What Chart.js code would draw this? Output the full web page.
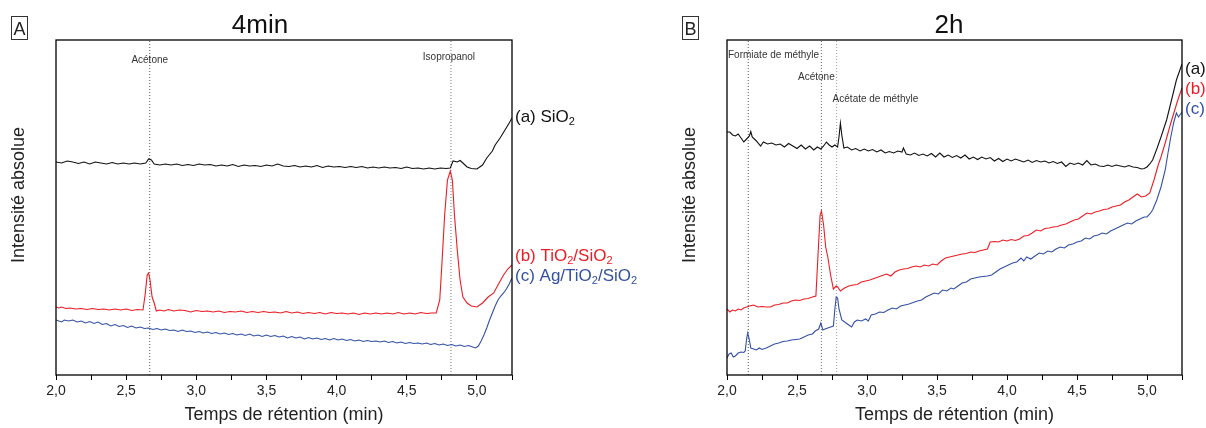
<!DOCTYPE html>
<html><head><meta charset="utf-8">
<script src="https://cdn.jsdelivr.net/npm/chart.js@4.4.1/dist/chart.umd.min.js"></script>
<style>
html,body{margin:0;padding:0;background:#fff;overflow:hidden}
#wrap{position:relative;width:1206px;height:428px}
canvas{position:absolute;top:0}
</style></head>
<body><div id="wrap"><canvas id="cA" width="680" height="428" style="left:0"></canvas><canvas id="cB" width="603" height="428" style="left:603px"></canvas></div>
<script>
// ---------- DATA ----------
const xTickValues = [2.0, 2.5, 3.0, 3.5, 4.0, 4.5, 5.0];
const peakLinesA = [2.668, 4.815];
const peakLinesB = [2.152, 2.674, 2.783];

// Panel A (4 min) : [retention time (min), intensity (a.u.)]
const sio2_4min = [[2.00,213],[2.04,212],[2.08,214],[2.12,213],[2.16,211.5],[2.20,213],[2.24,211],[2.28,213],[2.32,212],[2.36,211],[2.40,212.5],[2.44,211],[2.48,212],[2.52,211],[2.56,212],[2.60,211],[2.64,212],[2.66,216],[2.68,215],[2.70,211],[2.74,210],[2.78,211],[2.82,210],[2.86,211],[2.90,209.5],[2.94,210.5],[2.98,209.5],[3.02,211],[3.06,210],[3.10,210.5],[3.14,209],[3.18,210],[3.22,209],[3.26,210.5],[3.30,208.5],[3.34,210],[3.38,209],[3.42,209.5],[3.46,208.5],[3.50,210],[3.54,209],[3.58,211],[3.62,209],[3.66,208.5],[3.70,209.5],[3.74,208],[3.78,209],[3.82,208],[3.86,209.5],[3.90,207.5],[3.94,209],[3.98,208],[4.02,208.5],[4.06,207.5],[4.10,208.5],[4.14,207.5],[4.18,208.5],[4.22,207],[4.26,208],[4.30,207],[4.34,208],[4.38,207],[4.42,207.5],[4.46,206.5],[4.50,208],[4.54,206.5],[4.58,207],[4.62,206],[4.66,207],[4.70,206],[4.74,207],[4.78,206.5],[4.81,207],[4.83,214],[4.86,213],[4.88,214.5],[4.90,212],[4.93,208],[4.96,206.5],[5.00,206],[5.04,210],[5.07,217],[5.11,224],[5.13,230],[5.165,237],[5.20,245],[5.23,252],[5.25,257]];
const tio2_4min = [[2.00,68],[2.02,67],[2.04,68],[2.07,66.5],[2.10,67],[2.14,66],[2.18,66.5],[2.22,65.5],[2.26,66.5],[2.30,65.5],[2.34,66],[2.38,65],[2.42,66],[2.46,65],[2.50,66],[2.54,64.5],[2.58,65.5],[2.62,65],[2.635,80],[2.65,100],[2.66,102],[2.67,95],[2.685,78],[2.70,72],[2.715,64],[2.74,65],[2.77,64],[2.80,65.5],[2.84,64],[2.88,65],[2.92,64.5],[2.96,63],[3.00,64.5],[3.04,63.5],[3.08,64],[3.12,63],[3.16,64],[3.20,62.5],[3.24,63.5],[3.28,63],[3.32,64],[3.36,62.5],[3.40,63.5],[3.44,62.5],[3.48,63.5],[3.52,62.5],[3.56,63],[3.60,62],[3.64,63.5],[3.68,62],[3.72,63],[3.76,61.5],[3.80,62.5],[3.84,61.5],[3.88,62.5],[3.92,61],[3.96,62.5],[4.00,61.5],[4.04,62],[4.08,61],[4.12,62],[4.16,60.5],[4.20,62],[4.24,61],[4.28,62],[4.32,61],[4.36,62],[4.40,61],[4.44,62.5],[4.48,61],[4.52,62],[4.56,61],[4.60,62.5],[4.64,61.5],[4.68,62],[4.71,62],[4.735,75],[4.75,110],[4.77,160],[4.79,195],[4.81,204],[4.825,195],[4.84,160],[4.86,125],[4.88,95],[4.90,78],[4.93,72],[4.96,69],[5.00,68],[5.04,72],[5.08,78],[5.12,82],[5.15,90],[5.19,100],[5.22,106],[5.25,110]];
const agtio2_4min = [[2.00,55],[2.02,54],[2.04,53],[2.06,55],[2.09,54],[2.12,55],[2.15,53],[2.18,54],[2.21,52],[2.24,53.5],[2.27,51.5],[2.30,53],[2.33,50.5],[2.36,51.5],[2.39,49],[2.42,50.5],[2.45,48.5],[2.48,49.5],[2.51,47.5],[2.54,49],[2.57,47],[2.60,48],[2.63,46.5],[2.66,47],[2.69,45.5],[2.72,46.5],[2.75,45],[2.78,46],[2.81,44.5],[2.84,45],[2.87,43.5],[2.90,45],[2.93,43.5],[2.96,44],[2.99,42.5],[3.02,43.5],[3.05,42],[3.08,43],[3.11,41.5],[3.14,42.5],[3.17,41],[3.20,42],[3.23,40.5],[3.26,41.5],[3.29,40],[3.32,41],[3.35,39.5],[3.38,41],[3.41,39],[3.44,40],[3.47,38.5],[3.50,40],[3.53,38.5],[3.56,39.5],[3.59,38],[3.62,39],[3.65,37],[3.68,38.5],[3.71,37],[3.74,38],[3.77,36],[3.80,37.5],[3.83,36],[3.86,37],[3.89,35.5],[3.92,36.5],[3.95,35],[3.98,36.5],[4.01,35],[4.04,36],[4.07,34.5],[4.10,35.5],[4.13,34],[4.16,35],[4.19,33.5],[4.22,34.5],[4.25,33.5],[4.28,34],[4.31,33],[4.34,34],[4.37,32.5],[4.40,33.5],[4.43,32],[4.46,33],[4.49,31.5],[4.52,32.5],[4.55,31.5],[4.58,32],[4.61,31],[4.64,32],[4.67,30.5],[4.70,31.5],[4.73,30],[4.76,31],[4.79,29.5],[4.82,30.5],[4.85,29],[4.88,30],[4.91,28.5],[4.94,29.5],[4.97,28],[4.99,27],[5.01,29],[5.03,34],[5.05,40],[5.07,47],[5.09,55],[5.11,62],[5.13,69],[5.15,75],[5.17,79],[5.19,82],[5.21,86],[5.23,91],[5.25,97]];

// Panel B (2 h)
const sio2_2h = [[2.00,243],[2.02,243],[2.04,240],[2.06,239],[2.08,241],[2.10,237],[2.12,233],[2.14,236],[2.16,239],[2.17,243.5],[2.18,238],[2.21,234],[2.24,229],[2.26,233],[2.29,231],[2.32,232],[2.35,230],[2.38,231],[2.41,228],[2.44,231.5],[2.47,229],[2.50,226.5],[2.53,230],[2.56,226],[2.59,229],[2.62,225],[2.645,228],[2.67,226],[2.69,229],[2.71,233],[2.73,230],[2.75,228],[2.77,230],[2.79,228],[2.80,238],[2.81,252],[2.82,240],[2.835,227],[2.86,228],[2.89,225],[2.92,226.5],[2.95,224],[2.98,226],[3.01,224],[3.04,225.5],[3.07,223],[3.10,225],[3.13,222],[3.16,223.5],[3.19,222],[3.22,224],[3.25,223],[3.26,227],[3.28,221],[3.31,220],[3.34,222],[3.37,219.5],[3.40,221],[3.43,219],[3.46,221.5],[3.49,218],[3.52,222],[3.55,218],[3.58,220],[3.61,217.5],[3.64,219.5],[3.67,217],[3.70,220],[3.73,216],[3.76,218],[3.79,215.5],[3.82,218],[3.85,216],[3.88,217.5],[3.91,214],[3.94,216.5],[3.97,213.5],[4.00,216],[4.03,214],[4.06,216],[4.09,214.5],[4.12,213],[4.15,215],[4.18,212.5],[4.21,214.5],[4.24,213],[4.27,214],[4.30,212],[4.33,213.5],[4.36,211.5],[4.39,213],[4.42,208.5],[4.45,212],[4.48,210.5],[4.51,212],[4.54,210],[4.57,214.5],[4.60,210],[4.63,211],[4.66,209],[4.69,208.5],[4.72,210],[4.75,208.5],[4.78,210],[4.81,209],[4.84,208],[4.87,209.5],[4.90,208],[4.93,207.5],[4.96,206],[4.98,206.5],[5.00,208],[5.02,211],[5.04,215],[5.07,226],[5.10,238],[5.14,255],[5.17,272],[5.21,295],[5.25,311]];
const tio2_2h = [[2.00,66],[2.02,63],[2.04,65],[2.06,64],[2.08,66],[2.10,65],[2.12,67],[2.14,68],[2.16,69],[2.19,70],[2.22,68],[2.25,68.5],[2.28,68],[2.31,68],[2.34,70],[2.37,70.5],[2.40,72],[2.43,72],[2.46,74],[2.49,75],[2.52,74.5],[2.55,76],[2.58,76.5],[2.61,78],[2.635,79],[2.65,120],[2.665,160],[2.675,164],[2.69,150],[2.705,128],[2.72,118],[2.74,100],[2.76,86],[2.78,89],[2.79,88],[2.81,84],[2.84,87],[2.87,89],[2.90,90],[2.93,90.5],[2.96,93],[2.99,94],[3.02,95],[3.05,96.5],[3.08,98],[3.11,99.5],[3.14,101],[3.17,99],[3.20,103],[3.23,105],[3.26,106],[3.29,106.5],[3.32,108],[3.35,109],[3.38,108],[3.41,110],[3.44,109],[3.47,111],[3.50,110],[3.53,114],[3.56,117],[3.59,118],[3.62,119],[3.65,120],[3.68,121],[3.71,121.5],[3.74,123],[3.77,122.5],[3.80,124],[3.83,125],[3.86,126],[3.88,133],[3.91,133.5],[3.94,133],[3.97,135],[4.00,134],[4.03,135.5],[4.06,134.5],[4.09,136],[4.12,139],[4.15,139.5],[4.18,142],[4.21,145],[4.24,144],[4.27,146.5],[4.30,147],[4.33,148],[4.36,148.5],[4.39,150],[4.42,151],[4.45,153],[4.48,155],[4.51,156],[4.54,159],[4.57,162],[4.60,161],[4.63,163],[4.66,164],[4.69,165.5],[4.72,166],[4.75,168],[4.78,169],[4.81,170],[4.84,173],[4.87,175],[4.90,178],[4.93,181],[4.96,178],[4.99,179],[5.02,182],[5.05,195],[5.08,210],[5.10,218],[5.13,232],[5.17,252],[5.22,275],[5.25,287]];
const agtio2_2h = [[2.00,17],[2.015,21],[2.03,22],[2.045,18],[2.06,19],[2.08,22],[2.10,23],[2.12,22.5],[2.13,24],[2.14,36],[2.148,42],[2.16,35],[2.17,27],[2.19,26],[2.21,25],[2.23,27],[2.25,25.5],[2.28,27],[2.31,29],[2.34,31],[2.37,32],[2.40,33.5],[2.43,34],[2.46,35],[2.49,35.5],[2.52,36],[2.55,38],[2.58,40],[2.61,41],[2.63,44],[2.655,46],[2.67,52],[2.685,45],[2.70,46],[2.72,47],[2.74,48],[2.76,49],[2.77,65],[2.78,78],[2.79,77],[2.80,66],[2.82,55],[2.85,52],[2.87,50],[2.89,48],[2.91,53],[2.93,55],[2.96,54],[2.99,56],[3.01,54],[3.03,60],[3.06,61],[3.09,63],[3.12,62.5],[3.15,65],[3.18,67],[3.21,66],[3.24,69],[3.27,70],[3.30,71],[3.33,72.5],[3.36,74],[3.39,75],[3.42,78],[3.45,80],[3.48,82],[3.51,81],[3.54,85],[3.57,84],[3.60,87],[3.62,86],[3.65,89],[3.68,92],[3.71,93],[3.74,96],[3.77,97],[3.80,98],[3.83,98.5],[3.86,99],[3.89,100],[3.92,103],[3.95,106],[3.98,108],[4.01,110],[4.04,112],[4.07,113],[4.10,117],[4.12,114],[4.14,118],[4.17,116],[4.20,119],[4.23,122],[4.26,121],[4.29,124],[4.32,123],[4.35,126],[4.38,128],[4.41,127],[4.44,130],[4.47,131],[4.50,133],[4.53,134],[4.56,137],[4.59,136],[4.62,139],[4.65,140],[4.68,142],[4.71,141],[4.74,144],[4.77,146],[4.80,148],[4.83,150],[4.86,152],[4.89,151],[4.92,154],[4.95,156],[4.98,158],[5.00,158],[5.02,161],[5.04,165],[5.07,175],[5.10,188],[5.13,205],[5.15,222],[5.17,238],[5.19,252],[5.21,262],[5.225,258],[5.24,261],[5.25,263]];

// ---------- STYLE ----------
const FONT = '"Liberation Sans", Arial, Helvetica, sans-serif';
const BLACK = '#111111', RED = '#ec1c24', BLUE = '#3350a5';
Chart.defaults.font.family = FONT;
Chart.defaults.color = '#222';

const toXY = arr => arr.map(p => ({x: p[0], y: p[1]}));

const decor = {
  id: 'decor',
  afterDraw(chart, args, o) {
    const ctx = chart.ctx, a = chart.chartArea, xs = chart.scales.x;
    ctx.save();
    // frame
    ctx.strokeStyle = '#000'; ctx.lineWidth = 1.3;
    ctx.strokeRect(a.left, a.top, a.right - a.left, a.bottom - a.top);
    // title
    ctx.fillStyle = '#111'; ctx.textAlign = 'center'; ctx.textBaseline = 'alphabetic';
    ctx.font = '26px ' + FONT;
    ctx.fillText(o.title, o.titleX, 33);
    // panel letter
    ctx.lineWidth = 1; ctx.strokeStyle = '#333';
    ctx.strokeRect(o.letterX + 0.5, 16.5, 16, 23);
    ctx.font = '18px ' + FONT; ctx.fillStyle = '#222';
    ctx.fillText(o.letter, o.letterX + 8.5, 35);
    // y-axis title
    ctx.save();
    ctx.translate(o.yTitleX, o.yTitleY);
    ctx.rotate(-Math.PI / 2);
    ctx.font = '18px ' + FONT; ctx.fillStyle = '#222';
    ctx.textAlign = 'center'; ctx.textBaseline = 'middle';
    ctx.fillText('Intensité absolue', 0, 0);
    ctx.restore();
    // peak names
    ctx.font = '10px ' + FONT; ctx.fillStyle = '#333'; ctx.textBaseline = 'middle';
    o.peaks.forEach(p => {
      ctx.textAlign = p.align;
      ctx.fillText(p.text, xs.getPixelForValue(p.t) + p.dx, p.y);
    });
    // series labels with subscripts
    ctx.textAlign = 'left';
    o.labels.forEach(l => {
      let x = a.right + 3;
      ctx.fillStyle = l.color;
      l.parts.forEach(([txt, sub]) => {
        ctx.font = (sub ? '11px ' : '17px ') + FONT;
        ctx.fillText(txt, x, l.y + (sub ? 5 : 0));
        x += ctx.measureText(txt).width;
      });
    });
    ctx.restore();
  }
};

function lineDS(arr, color) {
  return {data: toXY(arr), borderColor: color, borderWidth: 1.1, pointRadius: 0, tension: 0, fill: false};
}
function markerDS(t, color) {
  return {data: [{x: t, y: 0}, {x: t, y: 335}], borderColor: color, borderWidth: 1, borderDash: [1, 2], pointRadius: 0, fill: false};
}

function makeChart(id, series, lines, lineColors, padLeft, padRight, deco) {
  const datasets = series.map(s => lineDS(s[0], s[1]));
  lines.forEach((t, i) => datasets.push(markerDS(t, lineColors[i])));
  return new Chart(document.getElementById(id), {
    type: 'line',
    data: {datasets},
    options: {
      responsive: false, animation: false, events: [],
      layout: {padding: {left: padLeft, right: padRight, top: 40, bottom: 0}},
      plugins: {legend: {display: false}, tooltip: {enabled: false}, decor: deco},
      scales: {
        x: {
          type: 'linear', min: 2, max: 5.25,
          afterFit: s => { s.height = 53; },
          border: {display: false},
          grid: {drawOnChartArea: false, drawTicks: true, tickLength: 5, tickColor: '#000', tickWidth: 1},
          ticks: {
            stepSize: 0.25, autoSkip: false, maxRotation: 0, padding: 3, color: '#222',
            font: {size: 14},
            callback: v => xTickValues.some(t => Math.abs(t - v) < 1e-6) ? v.toFixed(1).replace('.', ',') : ''
          },
          title: {display: true, text: 'Temps de rétention (min)', color: '#222', font: {size: 18}, padding: {top: 0, bottom: 2}}
        },
        y: {
          min: 0, max: 335,
          afterFit: s => { s.width = 56; },
          border: {display: false},
          grid: {display: false},
          ticks: {display: false},
          title: {display: false}
        }
      }
    },
    plugins: [decor]
  });
}

makeChart('cA',
  [[sio2_4min, BLACK], [tio2_4min, RED], [agtio2_4min, BLUE]],
  peakLinesA, ['#555', '#777'], 0, 168,
  {
    title: '4min', titleX: 260, letter: 'A', letterX: 11, yTitleX: 19, yTitleY: 195,
    peaks: [
      {text: 'Acétone', t: peakLinesA[0], dx: 0, y: 60, align: 'center'},
      {text: 'Isopropanol', t: peakLinesA[1], dx: -2, y: 57, align: 'center'}
    ],
    labels: [
      {y: 117, color: BLACK, parts: [['(a) SiO', 0], ['2', 1]]},
      {y: 256, color: RED, parts: [['(b) TiO', 0], ['2', 1], ['/SiO', 0], ['2', 1]]},
      {y: 276, color: BLUE, parts: [['(c) Ag/TiO', 0], ['2', 1], ['/SiO', 0], ['2', 1]]}
    ]
  });

makeChart('cB',
  [[sio2_2h, BLACK], [tio2_2h, RED], [agtio2_2h, BLUE]],
  peakLinesB, ['#555', '#666', '#999'], 68, 24,
  {
    title: '2h', titleX: 346, letter: 'B', letterX: 79, yTitleX: 87, yTitleY: 195,
    peaks: [
      {text: 'Formiate de méthyle', t: 2.0, dx: 1, y: 55, align: 'left'},
      {text: 'Acétone', t: peakLinesB[1], dx: -5, y: 77, align: 'center'},
      {text: 'Acétate de méthyle', t: peakLinesB[2], dx: -4, y: 99, align: 'left'}
    ],
    labels: [
      {y: 69, color: BLACK, parts: [['(a)', 0]]},
      {y: 89, color: RED, parts: [['(b)', 0]]},
      {y: 109, color: BLUE, parts: [['(c)', 0]]}
    ]
  });
</script>
</body></html>
